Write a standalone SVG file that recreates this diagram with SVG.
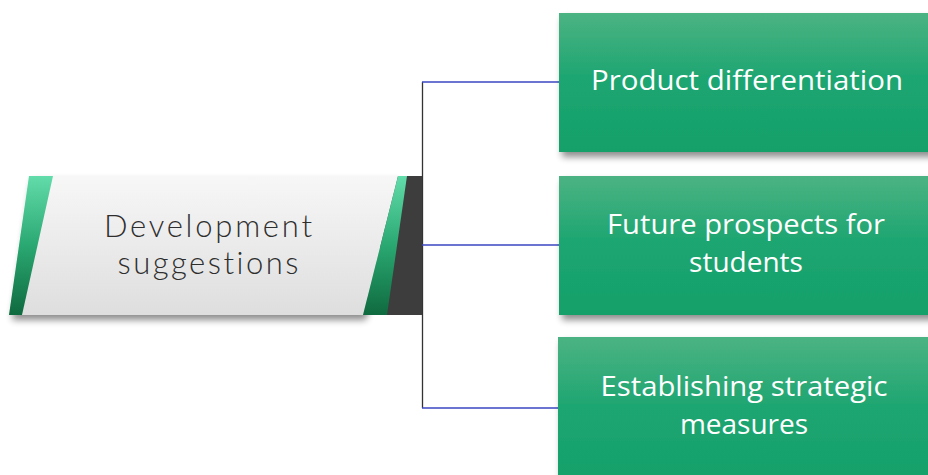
<svg xmlns="http://www.w3.org/2000/svg" width="928" height="475" viewBox="0 0 928 475">
  <defs>
    <linearGradient id="boxFill" x1="0" y1="0" x2="0" y2="1">
      <stop offset="0" stop-color="#4cb383"/>
      <stop offset="0.45" stop-color="#1fa672"/>
      <stop offset="1" stop-color="#12a069"/>
    </linearGradient>
    <linearGradient id="panelFill" x1="0" y1="0" x2="0" y2="1">
      <stop offset="0" stop-color="#f7f7f7"/>
      <stop offset="1" stop-color="#dedede"/>
    </linearGradient>
    <linearGradient id="stripFill" x1="0" y1="0" x2="0" y2="1">
      <stop offset="0" stop-color="#62dcaa"/>
      <stop offset="0.5" stop-color="#2aa872"/>
      <stop offset="1" stop-color="#0f6a3f"/>
    </linearGradient>
    <filter id="shadow" x="-10%" y="-10%" width="125%" height="130%">
      <feGaussianBlur in="SourceAlpha" stdDeviation="3.5"/>
      <feOffset dx="3" dy="5" result="b"/>
      <feComponentTransfer><feFuncA type="linear" slope="0.45"/></feComponentTransfer>
      <feMerge><feMergeNode/><feMergeNode in="SourceGraphic"/></feMerge>
    </filter>
    <style>
      .conn { fill: none; stroke-width: 1.3; }
      .trunk { stroke: #333333; }
      .branch { stroke: #3a46c0; }
      .boxText { font-family: "Open Sans", "Noto Sans", sans-serif; font-size: 28px; fill: #ffffff; text-anchor: middle; }
      .hubText { font-family: "Lato", "Noto Sans", sans-serif; font-weight: 300; font-size: 31px; fill: #2e2e2e; text-anchor: middle; font-variant-ligatures: none; font-feature-settings: "liga" 0; }
    </style>
  </defs>

  <!-- connectors -->
  <g id="connectors">
    <path class="conn trunk" d="M422.5 82 V408"/>
    <path class="conn branch" d="M422 82 H559"/>
    <path class="conn branch" d="M422 245 H559"/>
    <path class="conn branch" d="M422 408 H559"/>
  </g>

  <!-- hub node -->
  <g id="hub">
    <rect x="380" y="176" width="42" height="139" fill="#3d3d3d"/>
    <g filter="url(#shadow)">
      <polygon points="29,176 398,176 363,315 9,315" fill="url(#panelFill)"/>
    </g>
    <polygon points="29,176 53,176 22,315 9,315" fill="url(#stripFill)"/>
    <polygon points="398,176 407,176 387,315 363,315" fill="url(#stripFill)"/>
    <text class="hubText" x="208" y="237" textLength="208" lengthAdjust="spacing">Development</text>
    <text class="hubText" x="208" y="274" textLength="181" lengthAdjust="spacing">suggestions</text>
  </g>

  <!-- branch nodes -->
  <g id="product-differentiation">
    <rect x="559" y="13" width="380" height="139" fill="url(#boxFill)" filter="url(#shadow)"/>
    <text class="boxText" x="747" y="90" textLength="312" lengthAdjust="spacingAndGlyphs">Product differentiation</text>
  </g>

  <g id="future-prospects">
    <rect x="559" y="176" width="380" height="139" fill="url(#boxFill)" filter="url(#shadow)"/>
    <text class="boxText" x="746" y="234" textLength="278" lengthAdjust="spacingAndGlyphs">Future prospects for</text>
    <text class="boxText" x="746" y="272">students</text>
  </g>

  <g id="strategic-measures">
    <rect x="558" y="337" width="380" height="150" fill="url(#boxFill)" filter="url(#shadow)"/>
    <text class="boxText" x="744" y="396" textLength="287" lengthAdjust="spacingAndGlyphs">Establishing strategic</text>
    <text class="boxText" x="744" y="434">measures</text>
  </g>
</svg>
